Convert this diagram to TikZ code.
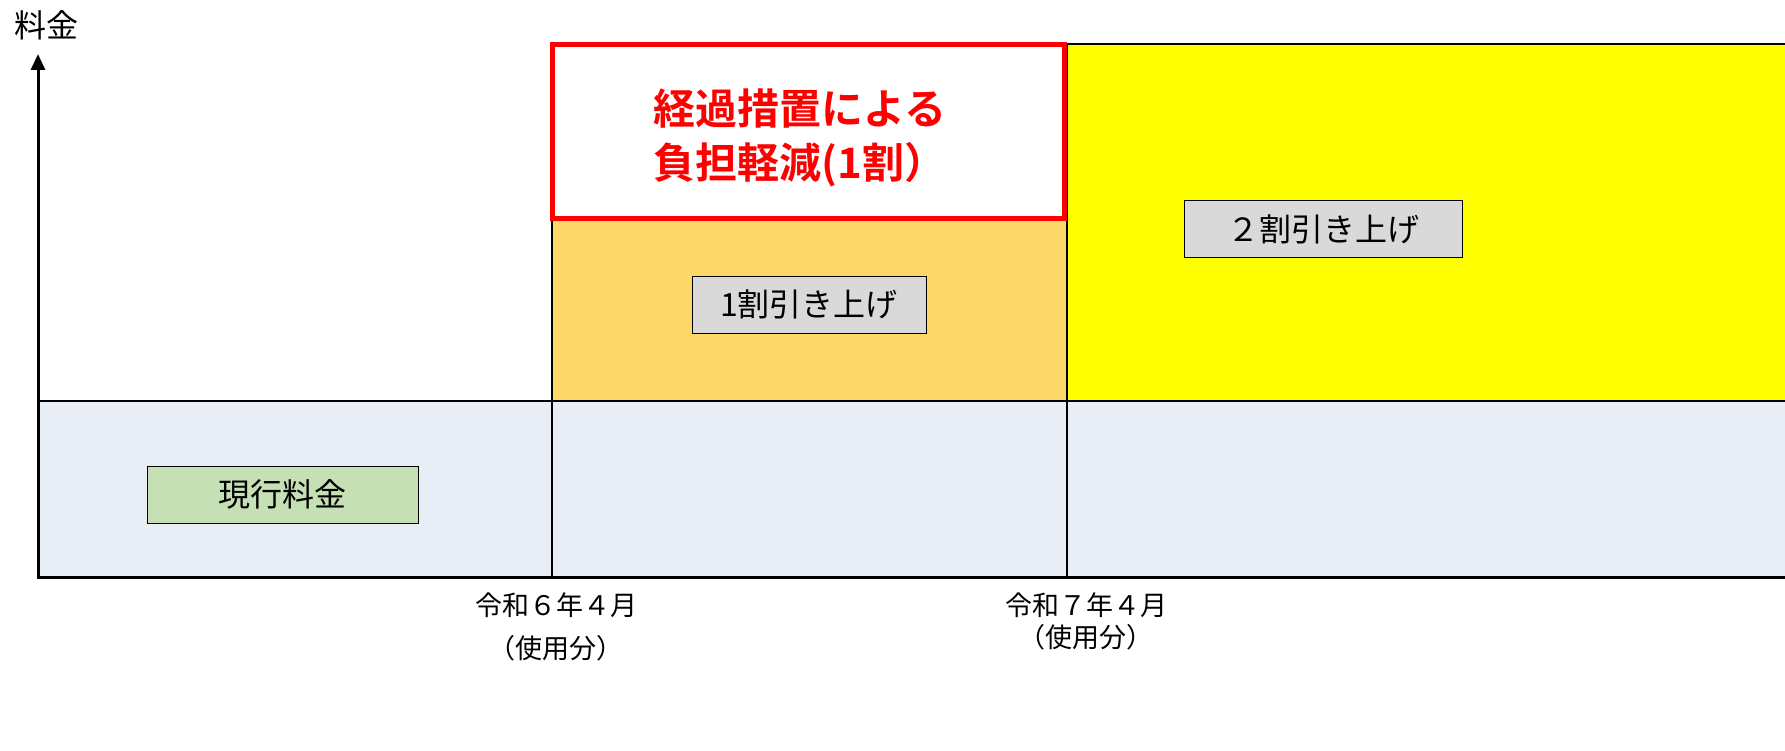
\documentclass[tikz,border=0pt]{standalone}
\usepackage{fontspec}
\setmainfont{Noto Sans CJK JP}
\newfontfamily\jpb[BoldFont={Noto Sans CJK JP Bold}]{Noto Sans CJK JP}
\usetikzlibrary{arrows.meta}
\definecolor{bandblue}{HTML}{E9EDF6}
\definecolor{orangefill}{HTML}{FDD868}
\definecolor{greyfill}{HTML}{D9D9D9}
\definecolor{greenfill}{HTML}{C5E0B4}
\definecolor{pureyellow}{HTML}{FFFF00}
\definecolor{purered}{HTML}{FF0000}
\tikzset{
  lbl/.style={draw=black, line width=0.8pt, fill=greyfill, minimum height=57pt, inner sep=0pt, font=\fontsize{32}{38}\selectfont},
  axis/.style={line width=3pt},
  divider/.style={line width=2pt},
  datelbl/.style={font=\fontsize{27}{32}\selectfont, inner sep=0pt}
}
\begin{document}
\begin{tikzpicture}[x=1pt,y=-1pt]
\useasboundingbox (0,0) rectangle (1785,751);
% bands
\fill[bandblue] (38,401) rectangle (1785,577);
\fill[orangefill] (552,220) rectangle (1067,401);
\fill[pureyellow] (1067,44) rectangle (1785,401);
\draw[divider] (1067,44) -- (1785,44);
\draw[divider] (38,401) -- (1785,401);
\draw[divider] (552,220) -- (552,577);
\draw[divider] (1067,44) -- (1067,577);
% red box
\node[draw=purered, line width=5pt, fill=white, minimum width=512pt, minimum height=174pt, inner sep=0pt] (redbox) at (808.5,132) {};
\node[text=purered, align=center, font=\jpb\bfseries\fontsize{42}{54}\selectfont] (redtxt) at (800,138) {経過措置による\\負担軽減(1割）};
% axes
\coordinate (origin) at (38,577);
\coordinate (ytop) at (38,54);
\coordinate (xend) at (1785,577);
\draw[axis] (36.5,577) -- (xend);
\draw[axis, -{Triangle[length=16pt,width=14pt]}] (origin) -- (ytop);
\node[font=\fontsize{32}{38}\selectfont, inner sep=0pt] (ylabel) at (46,25) {料金};
% label boxes
\node[lbl, minimum width=234pt] (up1) at (809,304.5) {1割引き上げ};
\node[lbl, minimum width=278pt] (up2) at (1323,229) {２割引き上げ};
\node[lbl, fill=greenfill, minimum width=271pt] (cur) at (282.5,494.5) {現行料金};
% dates
\node[datelbl] (d6) at (556,605) {令和６年４月};
\node[datelbl] (d6b) at (556,648) {（使用分）};
\node[datelbl] (d7) at (1086,605) {令和７年４月};
\node[datelbl] (d7b) at (1086,637) {（使用分）};
\end{tikzpicture}
\end{document}
